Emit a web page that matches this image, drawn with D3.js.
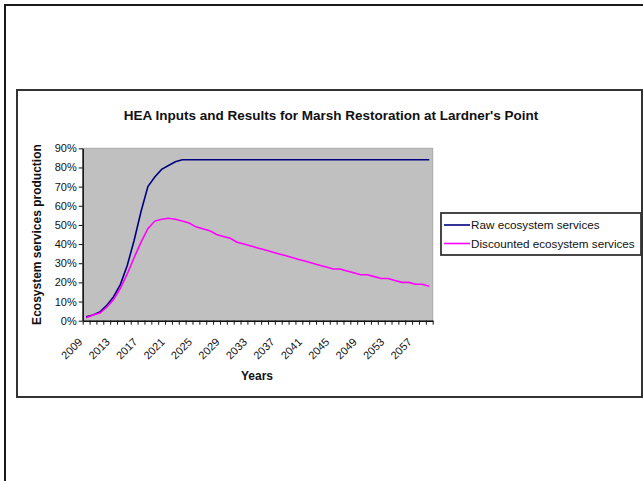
<!DOCTYPE html>
<html>
<head>
<meta charset="utf-8">
<script src="https://cdn.jsdelivr.net/npm/d3@7"></script>
<style>
  body { margin: 0; background: #fff; }
  svg { display: block; font-family: "Liberation Sans", Arial, sans-serif; }
  .axis path, .axis line { stroke: #111; }
  .axis text { fill: #111; font-size: 11px; font-family: "Liberation Sans", Arial, sans-serif; }
</style>
</head>
<body>
<svg id="chart" width="643" height="481"></svg>
<script>
// data
var years = [2009,2010,2011,2012,2013,2014,2015,2016,2017,2018,
             2019,2020,2021,2022,2023,2024,2025,2026,2027,2028,
             2029,2030,2031,2032,2033,2034,2035,2036,2037,2038,
             2039,2040,2041,2042,2043,2044,2045,2046,2047,2048,
             2049,2050,2051,2052,2053,2054,2055,2056,2057,2058,2059];
var rawServices = [2,3,4.5,8,12.5,19,29,42,57,70,
                   75,79,81,83,84,84,84,84,84,84,
                   84,84,84,84,84,84,84,84,84,84,
                   84,84,84,84,84,84,84,84,84,84,
                   84,84,84,84,84,84,84,84,84,84,84];
var discountedServices = [1.5,3,4,7,11,17,24.5,33,41,48,
                          52,53,53.5,53,52,51,49,48,47,45,
                          44,43,41,40,39,38,37,36,35,34,
                          33,32,31,30,29,28,27,27,26,25,
                          24,24,23,22,22,21,20,20,19,19,18];
var yTicks = [0,10,20,30,40,50,60,70,80,90];
var labelYears = [2009,2013,2017,2021,2025,2029,2033,2037,2041,2045,2049,2053,2057];
var seriesNames = ["Raw ecosystem services", "Discounted ecosystem services"];
var seriesColors = ["#000080", "#ff00ff"];

var svg = d3.select("#chart");

// outer page frame (left + top only visible)
svg.append("path")
    .attr("d", "M5,481 V5 H643")
    .attr("fill", "none")
    .attr("stroke", "#1a1a1a")
    .attr("stroke-width", 2);

// chart box
svg.append("rect")
    .attr("x", 17).attr("y", 90)
    .attr("width", 625).attr("height", 307)
    .attr("fill", "#fff")
    .attr("stroke", "#333")
    .attr("stroke-width", 2);

svg.append("text")
    .attr("x", 331).attr("y", 120)
    .attr("text-anchor", "middle")
    .attr("font-weight", "bold")
    .attr("font-size", "13.5px")
    .attr("fill", "#111")
    .text("HEA Inputs and Results for Marsh Restoration at Lardner's Point");

var plotLeft = 82.7, plotRight = 432.7, plotTop = 148.3, plotBottom = 320.7;

var x = d3.scaleBand().domain(years).range([plotLeft, plotRight]).paddingInner(0).paddingOuter(0);
var xEdge = d3.scaleLinear().domain([0, years.length]).range([plotLeft, plotRight]);
var y = d3.scaleLinear().domain([0, 90]).range([plotBottom, plotTop]);

svg.append("rect")
    .attr("x", plotLeft).attr("y", plotTop)
    .attr("width", plotRight - plotLeft).attr("height", plotBottom - plotTop)
    .attr("fill", "#c0c0c0")
    .attr("stroke", "#a8a8a8")
    .attr("stroke-width", 1);

var line = d3.line()
    .x(function(d, i){ return x(years[i]) + x.bandwidth() / 2; })
    .y(function(d){ return y(d); });

[rawServices, discountedServices].forEach(function(s, k){
    svg.append("path")
        .datum(s)
        .attr("d", line)
        .attr("fill", "none")
        .attr("stroke", seriesColors[k])
        .attr("stroke-width", 1.6);
});

// axes
svg.append("g")
    .attr("class", "axis")
    .attr("transform", "translate(" + plotLeft + ",0)")
    .call(d3.axisLeft(y).tickValues(yTicks).tickSize(4).tickSizeOuter(0)
        .tickFormat(function(d){ return d + "%"; }))
    .call(function(g){ g.select(".domain").attr("stroke-width", 1.5); })
    .selectAll("text").attr("x", -6);

svg.append("g")
    .attr("class", "axis")
    .attr("transform", "translate(0," + plotBottom + ")")
    .call(d3.axisBottom(xEdge).tickValues(d3.range(years.length + 1)).tickSize(4).tickSizeOuter(0)
        .tickFormat(""))
    .call(function(g){ g.select(".domain").attr("stroke-width", 1.5); });

svg.append("g")
    .selectAll("text")
    .data(labelYears)
    .enter().append("text")
    .attr("transform", function(d){
        return "translate(" + (x(d) + x.bandwidth() / 2 - 3) + "," + (plotBottom + 22) + ") rotate(-45)";
    })
    .attr("text-anchor", "end")
    .attr("font-size", "11px")
    .attr("fill", "#111")
    .text(function(d){ return d; });

svg.append("text")
    .attr("x", 257).attr("y", 380)
    .attr("text-anchor", "middle")
    .attr("font-weight", "bold")
    .attr("font-size", "12px")
    .attr("fill", "#111")
    .text("Years");

svg.append("text")
    .attr("transform", "translate(41," + ((plotTop + plotBottom) / 2) + ") rotate(-90)")
    .attr("text-anchor", "middle")
    .attr("font-weight", "bold")
    .attr("font-size", "12px")
    .attr("fill", "#111")
    .text("Ecosystem services production");

// legend
var legend = svg.append("g").attr("transform", "translate(441,213)");
legend.append("rect")
    .attr("width", 200).attr("height", 42)
    .attr("fill", "#fff")
    .attr("stroke", "#333")
    .attr("stroke-width", 1.8);
seriesNames.forEach(function(name, k){
    var ly = 12 + k * 18.5;
    legend.append("line")
        .attr("x1", 3).attr("x2", 29)
        .attr("y1", ly).attr("y2", ly)
        .attr("stroke", seriesColors[k])
        .attr("stroke-width", 1.6);
    legend.append("text")
        .attr("x", 30).attr("y", ly + 4)
        .attr("font-size", "11.7px")
        .attr("fill", "#111")
        .text(name);
});
</script>
</body>
</html>
